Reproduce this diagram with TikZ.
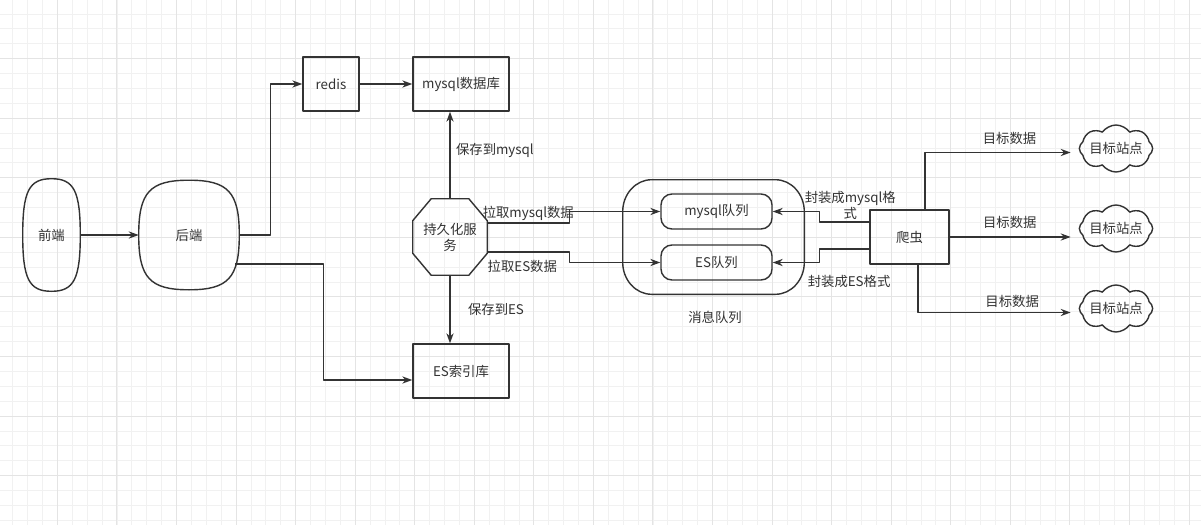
\documentclass[tikz,border=0pt]{standalone}
\usepackage{fontspec}
\newfontfamily\cjk{Noto Sans CJK SC}
\usetikzlibrary{arrows.meta,shapes.symbols,calc}
\definecolor{ink}{HTML}{333333}
\definecolor{gridminor}{HTML}{F1F1F1}
\definecolor{gridmajor}{HTML}{E4E4E4}
\tikzset{
  every picture/.style={font=\cjk\fontsize{9.5}{11.5}\selectfont, line join=round, >=Stealth},
  box/.style={draw=ink, line width=1pt, text=ink, inner sep=0pt},
  blob/.style={text=ink, inner sep=0pt},
  flow/.style={draw=ink, line width=0.9pt, -{Stealth[length=0.25cm,width=0.18cm]}},
  tag/.style={text=ink, inner sep=1pt},
  site/.style={cloud, cloud puffs=8, cloud puff arc=110, cloud ignores aspect, draw=ink, line width=1pt, text=ink, minimum width=1.8cm, minimum height=1.175cm, inner sep=0pt},
  minorline/.style={draw=gridminor, line width=0.6pt},
  majorline/.style={draw=gridmajor, line width=0.7pt},
}
% frame with elliptic corners round a node
\newcommand{\softframe}[3]{%
  \draw[box] ([xshift=#2]#1.north west) -- ([xshift=-#2]#1.north east)
    .. controls +(0.55*#2,0) and +(0,0.55*#3) .. ([yshift=-#3]#1.north east)
    -- ([yshift=#3]#1.south east)
    .. controls +(0,-0.55*#3) and +(0.55*#2,0) .. ([xshift=-#2]#1.south east)
    -- ([xshift=#2]#1.south west)
    .. controls +(-0.55*#2,0) and +(0,-0.55*#3) .. ([yshift=#3]#1.south west)
    -- ([yshift=-#3]#1.north west)
    .. controls +(0,0.55*#3) and +(-0.55*#2,0) .. cycle;}
% plump squircle round a node
\newcommand{\plumpframe}[2]{%
  \draw[box] (#1.north)
    .. controls ($(#1.north)!#2!(#1.north east)$) and ($(#1.east)!#2!(#1.north east)$) .. (#1.east)
    .. controls ($(#1.east)!#2!(#1.south east)$) and ($(#1.south)!#2!(#1.south east)$) .. (#1.south)
    .. controls ($(#1.south)!#2!(#1.south west)$) and ($(#1.west)!#2!(#1.south west)$) .. (#1.west)
    .. controls ($(#1.west)!#2!(#1.north west)$) and ($(#1.north)!#2!(#1.north west)$) .. cycle;}

\begin{document}
\begin{tikzpicture}[x=0.025cm,y=-0.025cm]
\useasboundingbox (0,0) rectangle (1201,525);
\fill[white] (0,0) rectangle (1201,525);
% grid
\foreach \k in {0,...,79} \draw[minorline] ({12.7+14.89*\k},0) -- ++(0,525);
\foreach \k in {0,...,34} \draw[minorline] (0,{14+14.89*\k}) -- ++(1201,0);
\foreach \k in {3,7,...,79} \draw[majorline] ({12.7+14.89*\k},0) -- ++(0,525);
\foreach \k in {3,7,...,31} \draw[majorline] (0,{14+14.89*\k}) -- ++(1201,0);

% nodes
\node[blob, minimum width=1.425cm, minimum height=2.8cm] (front) at (51.5,235) {前端};
\node[blob, minimum width=2.5cm, minimum height=2.725cm] (back) at (189,235) {后端};
\node[box, minimum width=1.4cm, minimum height=1.35cm] (redis) at (331,84) {redis};
\node[box, minimum width=2.4cm, minimum height=1.35cm] (mysqldb) at (461,84) {mysql数据库};
\node[box, minimum width=2.4cm, minimum height=1.35cm] (esdb) at (461,371) {ES索引库};
\node[blob, minimum width=1.85cm, minimum height=1.9cm, align=center] (persist) at (450,237) {持久化服\\务};
\node[blob, minimum width=4.525cm, minimum height=2.85cm] (queue) at (713.5,237) {};
\node[box, rounded corners=0.275cm, minimum width=2.775cm, minimum height=0.875cm] (mq) at (716.5,211.5) {mysql队列};
\node[box, rounded corners=0.275cm, minimum width=2.775cm, minimum height=0.875cm] (eq) at (716.5,262.5) {ES队列};
\node[tag] (qlabel) at (715,317) {消息队列};
\node[box, minimum width=1.975cm, minimum height=1.35cm] (crawler) at (909.5,237) {爬虫};
\node[site] (site1) at (1116,148.5) {目标站点};
\node[site] (site2) at (1116,228.5) {目标站点};
\node[site] (site3) at (1116,308.5) {目标站点};

\plumpframe{front}{0.78}
\plumpframe{back}{0.78}
\softframe{queue}{0.72cm}{0.8cm}
\draw[box] ([xshift=0.4625cm]persist.north west) -- ([xshift=-0.4625cm]persist.north east)
  -- ([yshift=-0.55cm]persist.north east) -- ([yshift=0.55cm]persist.south east)
  -- ([xshift=-0.4625cm]persist.south east) -- ([xshift=0.4625cm]persist.south west)
  -- ([yshift=0.55cm]persist.south west) -- ([yshift=-0.55cm]persist.north west) -- cycle;

% connectors
\draw[flow] (front.east) -- (front.east -| back.west);
\draw[flow] (back.east) -- ++(31,0) |- (redis.west);
\draw[flow] (redis) -- (mysqldb);
\draw[flow] ([shift={(-0.1cm,-0.725cm)}]back.east) -- ++(88,0) |- ([yshift=-0.225cm]esdb.west);
\draw[flow] (persist.north) -- (persist.north |- mysqldb.south)
  node[tag, right, pos=0.55, xshift=0.1cm] (savemysql) {保存到mysql};
\draw[flow] (persist.south) -- (persist.south |- esdb.north)
  node[tag, right, midway, xshift=0.4cm] (savees) {保存到ES};
\draw[flow] ([yshift=0.35cm]persist.east) -- node[tag, above, midway] (pullmysql) {拉取mysql数据} ++(82,0) |- (mq.west);
\draw[flow] ([yshift=-0.375cm]persist.east) -- node[tag, below, midway, xshift=-0.15cm, yshift=-0.15cm] (pulles) {拉取ES数据} ++(82,0) |- (eq.west);
\draw[flow] ([yshift=0.375cm]crawler.west) -- node[tag, above, midway, align=center, xshift=0.15cm] (packmysql) {封装成mysql格\\式} ++(-50,0) |- (mq.east);
\draw[flow] ([yshift=-0.3cm]crawler.west) -- node[tag, below, midway, xshift=0.12cm, yshift=-0.6cm] (packes) {封装成ES格式} ++(-50,0) |- (eq.east);
\draw[flow, shorten >=0.2cm] ([xshift=0.39cm]crawler.north) |- ([yshift=-0.1cm]site1.west)
  node[tag, above, pos=0.775, yshift=0.15cm] (data1) {目标数据};
\draw[flow, shorten >=0.2cm] (crawler.east) -- (crawler.east -| site2.west)
  node[tag, above, pos=0.466, yshift=0.15cm] (data2) {目标数据};
\draw[flow, shorten >=0.2cm] ([xshift=0.2125cm]crawler.south) |- ([yshift=-0.1cm]site3.west)
  node[tag, above, pos=0.793, yshift=0.075cm] (data3) {目标数据};
\end{tikzpicture}
\end{document}
